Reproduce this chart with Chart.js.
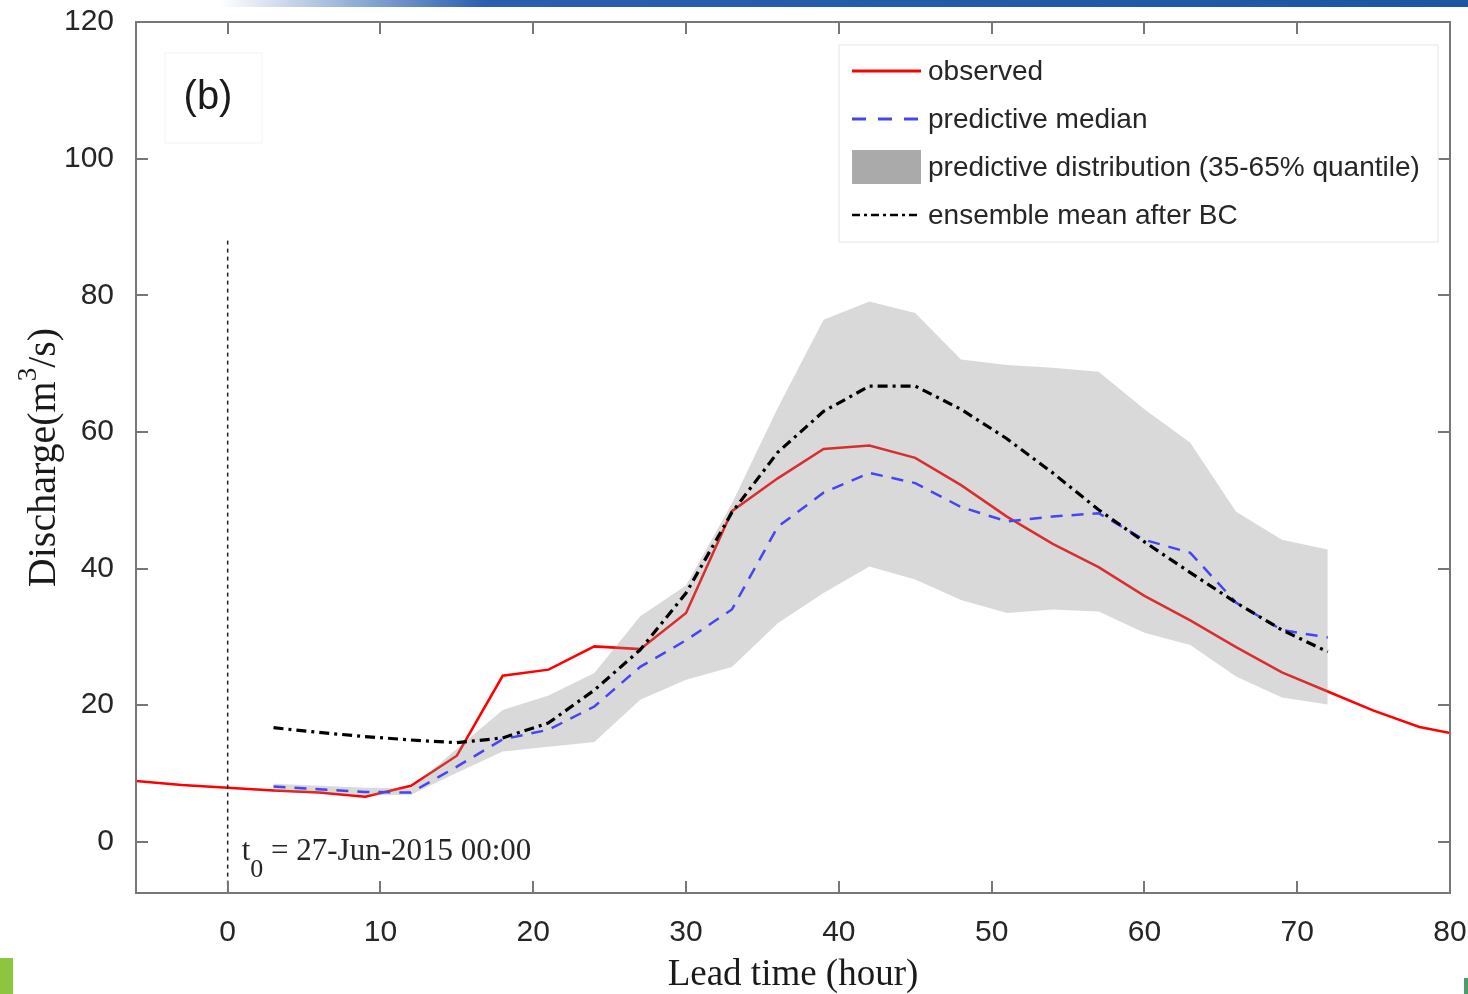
<!DOCTYPE html>
<html><head><meta charset="utf-8">
<script src="https://cdn.jsdelivr.net/npm/chart.js@4.4.1/dist/chart.umd.min.js"></script>
<style>
html,body{margin:0;padding:0;background:#fff;width:1468px;height:994px;overflow:hidden;position:relative}
#c{position:absolute;left:0;top:0}
.deco{position:absolute}
</style></head>
<body>
<canvas id="c" width="1468" height="994"></canvas>
<div class="deco" style="left:0;top:0;width:1468px;height:7px;background:linear-gradient(to right,rgba(255,255,255,0) 15%,#2a5fae 33%,#1d55a5 100%)"></div>
<div class="deco" style="left:0;top:958px;width:13px;height:36px;background:#8cc63e"></div>
<div class="deco" style="left:1464px;top:978px;width:4px;height:16px;background:#4e9b6c"></div>
<script>
// ---- data (hours of lead time, discharge m3/s) ----
const obsHours = [-6,-3,0,3,6,9,12,15,18,21,24,27,30,33,36,39,42,45,48,51,54,57,60,63,66,69,72,75,78,81];
const observed = [8.9,8.3,7.9,7.5,7.2,6.6,8.2,12.6,24.3,25.2,28.6,28.2,33.5,48.4,53.2,57.5,58.0,56.2,52.2,47.6,43.6,40.2,36.0,32.4,28.5,24.8,22.0,19.2,16.8,15.5];
const fcHours = [3,6,9,12,15,18,21,24,27,30,33,36,39,42,45,48,51,54,57,60,63,66,69,72];
const median = [8.1,7.7,7.3,7.2,11.0,15.0,16.4,19.8,25.6,29.5,34.0,46.1,51.1,54.0,52.5,49.0,46.9,47.6,48.1,44.2,42.3,35.0,31.0,29.9];
const ensembleMean = [16.7,16.0,15.4,14.9,14.5,15.2,17.4,22.2,28.1,36.4,48.2,57.0,63.0,66.7,66.7,63.3,59.0,54.0,48.6,43.9,39.4,35.0,31.0,27.8];
const q65 = [8.5,8.2,7.9,7.8,13.6,19.3,21.4,24.7,33.0,37.5,49.5,63.5,76.4,79.1,77.4,70.6,69.8,69.4,68.8,63.3,58.4,48.3,44.2,42.8];
const q35 = [7.4,7.1,6.8,6.9,10.1,13.2,13.9,14.6,20.8,23.7,25.6,32.0,36.4,40.3,38.4,35.4,33.5,34.0,33.7,30.6,28.8,24.2,21.1,20.1];
const xTicks = [0,10,20,30,40,50,60,70,80];
const yTicks = [0,20,40,60,80,100,120];
const t0Hour = 0;
const t0LineY = [88,-7.5];
const legendLabels = ['observed','predictive median','predictive distribution (35-65% quantile)','ensemble mean after BC'];
const t0Text = ' = 27-Jun-2015 00:00';
const panelLabel = '(b)';

const pts = (xs, ys) => xs.map((h,i)=>({x:h,y:ys[i]}));

const RED='#ff0000', BLUE='#4646f0', BLACK='#000000';
const BAND='rgba(140,140,140,0.33)';
const BLUE_DASH=[12,9], DASHDOT=[10,5,3,5];
const SANS='"Liberation Sans", Arial, sans-serif';
const SERIF='"Liberation Serif", "Times New Roman", serif';

const decoPlugin = {
  id:'deco',
  afterDraw(chart){
    const {ctx, chartArea:a, scales:{x,y}} = chart;
    ctx.save();
    // axes box
    ctx.strokeStyle='#777'; ctx.lineWidth=2;
    ctx.strokeRect(a.left,a.top,a.right-a.left,a.bottom-a.top);
    // inward ticks
    const L=12;
    ctx.beginPath();
    xTicks.forEach(v=>{const p=Math.round(x.getPixelForValue(v));
      ctx.moveTo(p,a.bottom); ctx.lineTo(p,a.bottom-L);
      ctx.moveTo(p,a.top); ctx.lineTo(p,a.top+L);});
    yTicks.forEach(v=>{const p=Math.round(y.getPixelForValue(v));
      ctx.moveTo(a.left,p); ctx.lineTo(a.left+L,p);
      ctx.moveTo(a.right,p); ctx.lineTo(a.right-L,p);});
    ctx.stroke();

    // panel label box (faint) and text
    ctx.strokeStyle='#f3f3f3'; ctx.lineWidth=1;
    ctx.strokeRect(a.left+29,a.top+31,97,90);
    ctx.fillStyle='#1a1a1a'; ctx.font='40px '+SANS;
    ctx.textAlign='center'; ctx.textBaseline='middle';
    ctx.fillText(panelLabel, a.left+72, a.top+76);

    // legend
    ctx.strokeStyle='#eeeeee'; ctx.lineWidth=1.5;
    ctx.strokeRect(a.right-611, a.top+23, 599, 197);
    const rows=[a.top+49,a.top+97,a.top+145,a.top+193];
    const sx0=a.right-598, sx1=a.right-529, tx=a.right-522;
    ctx.lineWidth=3;
    ctx.strokeStyle=RED; ctx.setLineDash([]);
    ctx.beginPath(); ctx.moveTo(sx0,rows[0]); ctx.lineTo(sx1,rows[0]); ctx.stroke();
    ctx.strokeStyle=BLUE; ctx.setLineDash([14,12]);
    ctx.beginPath(); ctx.moveTo(sx0,rows[1]); ctx.lineTo(sx1,rows[1]); ctx.stroke();
    ctx.setLineDash([]);
    ctx.fillStyle='#aaaaaa'; ctx.fillRect(sx0,rows[2]-17,sx1-sx0,34);
    ctx.strokeStyle=BLACK; ctx.lineWidth=2.5; ctx.setLineDash([8,4,3,4]);
    ctx.beginPath(); ctx.moveTo(sx0,rows[3]); ctx.lineTo(sx1,rows[3]); ctx.stroke();
    ctx.setLineDash([]);
    ctx.fillStyle='#262626'; ctx.font='28px '+SANS; ctx.textAlign='left'; ctx.textBaseline='middle';
    legendLabels.forEach((t,i)=>ctx.fillText(t,tx,rows[i]+1));

    // t0 annotation
    const bx = x.getPixelForValue(t0Hour)+14, by = y.getPixelForValue(-2.6);
    ctx.fillStyle='#262626'; ctx.textBaseline='alphabetic'; ctx.textAlign='left';
    ctx.font='31px '+SERIF; ctx.fillText('t',bx,by);
    let w=ctx.measureText('t').width;
    ctx.font='26px '+SERIF; ctx.fillText('0',bx+w,by+17);
    w+=ctx.measureText('0').width;
    ctx.font='31px '+SERIF; ctx.fillText(t0Text,bx+w,by);

    // x title
    ctx.font='37px '+SERIF; ctx.textAlign='center'; ctx.fillStyle='#1a1a1a';
    ctx.fillText('Lead time (hour)',(a.left+a.right)/2,985);

    // y title with superscript
    ctx.save();
    ctx.translate(55,(a.top+a.bottom)/2); ctx.rotate(-Math.PI/2);
    ctx.textAlign='left';
    ctx.font='40px '+SERIF; const w1=ctx.measureText('Discharge(m').width, w3=ctx.measureText('/s)').width;
    ctx.font='27px '+SERIF; const w2=ctx.measureText('3').width;
    const s=-(w1+w2+w3)/2;
    ctx.font='40px '+SERIF; ctx.fillText('Discharge(m',s,0);
    ctx.font='27px '+SERIF; ctx.fillText('3',s+w1,-19);
    ctx.font='40px '+SERIF; ctx.fillText('/s)',s+w1+w2,0);
    ctx.restore();
    ctx.restore();
  }
};

new Chart(document.getElementById('c'), {
  type:'line',
  data:{datasets:[
    {label:'observed', data:pts(obsHours,observed), borderColor:RED, borderWidth:2.5, pointRadius:0, fill:false, order:5},
    {label:'q65', data:pts(fcHours,q65), borderWidth:0, borderColor:'rgba(0,0,0,0)', backgroundColor:BAND, pointRadius:0, fill:'+1', order:4},
    {label:'q35', data:pts(fcHours,q35), borderWidth:0, borderColor:'rgba(0,0,0,0)', pointRadius:0, fill:false, order:3},
    {label:'predictive median', data:pts(fcHours,median), borderColor:BLUE, borderWidth:2.5, borderDash:BLUE_DASH, pointRadius:0, fill:false, order:2},
    {label:'ensemble mean after BC', data:pts(fcHours,ensembleMean), borderColor:BLACK, borderWidth:3.2, borderDash:DASHDOT, pointRadius:0, fill:false, order:1},
    {label:'t0', data:t0LineY.map(v=>({x:t0Hour,y:v})), borderColor:'#222', borderWidth:1.5, borderDash:[4,4], pointRadius:0, fill:false, order:0}
  ]},
  options:{
    responsive:false, animation:false, devicePixelRatio:1,
    layout:{padding:{left:0,right:18,top:22,bottom:0}},
    plugins:{legend:{display:false}, tooltip:{enabled:false}},
    elements:{line:{tension:0}},
    scales:{
      x:{type:'linear', min:-6, max:80,
        grid:{display:false}, border:{display:false},
        afterBuildTicks:s=>{s.ticks=xTicks.map(v=>({value:v}));},
        afterFit:s=>{s.height=101; s.paddingLeft=0; s.paddingRight=0;},
        ticks:{font:{family:SANS,size:30}, color:'#262626', padding:14, maxRotation:0, autoSkip:false}},
      y:{type:'linear', min:-7.5, max:120,
        grid:{display:false}, border:{display:false},
        afterBuildTicks:s=>{s.ticks=yTicks.map(v=>({value:v}));},
        afterFit:s=>{s.width=136; s.paddingTop=0; s.paddingBottom=0;},
        ticks:{font:{family:SANS,size:30}, color:'#262626', padding:14}}
    }
  },
  plugins:[decoPlugin]
});
</script>
</body></html>
